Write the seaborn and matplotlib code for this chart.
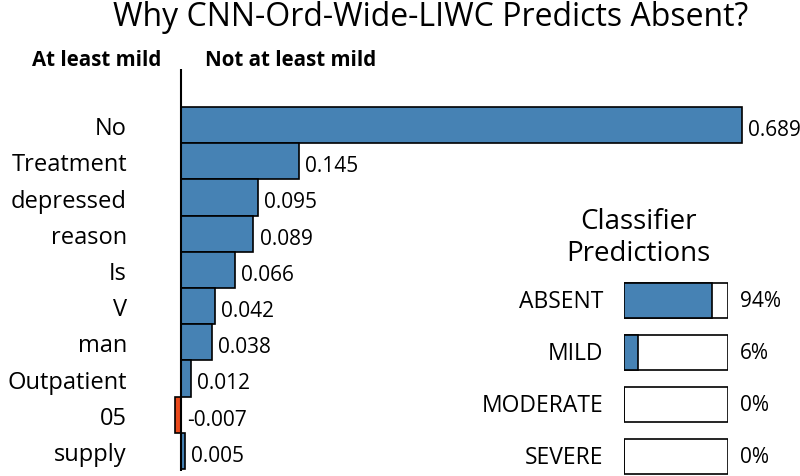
import matplotlib
matplotlib.use('Agg')
import matplotlib.pyplot as plt
import seaborn as sns

# feature weights (top -> bottom)
words = ['No', 'Treatment', 'depressed', 'reason', 'Is', 'V', 'man',
         'Outpatient', '05', 'supply']
weights = [0.689, 0.145, 0.095, 0.089, 0.066, 0.042, 0.038, 0.012, -0.007, 0.005]

# classifier prediction panel
classes = ['ABSENT', 'MILD', 'MODERATE', 'SEVERE']
pred_labels = ['94%', '6%', '0%', '0%']
pred_fill = [0.846, 0.135, 0.0, 0.0]

BLUE = '#4682b4'
RED = '#ea4a1c'

sns.set_style('white')
plt.rcParams['font.family'] = ['Open Sans', 'DejaVu Sans']
plt.rcParams['text.color'] = 'black'
plt.rcParams['ytick.color'] = 'black'

fig = plt.figure(figsize=(8, 4.77), dpi=100)

# --- main weight chart ---
ax = fig.add_axes([170 / 800, 5 / 477, 630 / 800, 402 / 477])
bar_colors = [BLUE if w >= 0 else RED for w in weights]
sns.barplot(x=weights, y=words, hue=words, palette=bar_colors, orient='h',
            width=1.0, edgecolor='black', linewidth=1.2, legend=False,
            saturation=1, ax=ax)
ax.set_xlim(-0.0135, 0.760)
ax.set_ylim(9.555, -1.55)
ax.axvline(0, color='black', lw=1.5)
for s in ax.spines.values():
    s.set_visible(False)
ax.set_xticks([])
ax.set_xlabel('')
ax.set_ylabel('')
ax.tick_params(axis='y', length=0, pad=31, labelsize=17)

for i, w in enumerate(weights):
    ax.text(max(w, 0) + 0.0075, i + 0.12, f'{w:.3f}', va='center', ha='left',
            fontsize=15, clip_on=False)

fig.text(161 / 800, 1 - 60 / 477, 'At least mild', ha='right', va='center',
         fontsize=14.8, fontweight='bold')
fig.text(205 / 800, 1 - 60 / 477, 'Not at least mild', ha='left', va='center',
         fontsize=14.8, fontweight='bold')

fig.text(431 / 800, 1 - 17 / 477, 'Why CNN-Ord-Wide-LIWC Predicts Absent?',
         ha='center', va='center', fontsize=23)

# --- classifier predictions ---
fig.text(638 / 800, 1 - 238 / 477, 'Classifier\nPredictions', ha='center',
         va='center', fontsize=20, linespacing=1.15)

pax = fig.add_axes([624 / 800, 0, 104 / 800, 196 / 477])
sns.barplot(x=[1.0] * len(classes), y=classes, color='white', orient='h',
            width=0.68, edgecolor='black', linewidth=1.2, saturation=1, ax=pax)
sns.barplot(x=pred_fill, y=classes, color=BLUE, orient='h', width=0.68,
            edgecolor='black', linewidth=1.2, saturation=1, ax=pax)
pax.set_xlim(0, 1)
pax.set_ylim(3.37, -0.4)
pax.axis('off')
for i, (c, p) in enumerate(zip(classes, pred_labels)):
    pax.text(-0.2, i, c, ha='right', va='center', fontsize=16.5)
    pax.text(1.115, i, p, ha='left', va='center', fontsize=15)

fig.savefig('out.png', dpi=100)
